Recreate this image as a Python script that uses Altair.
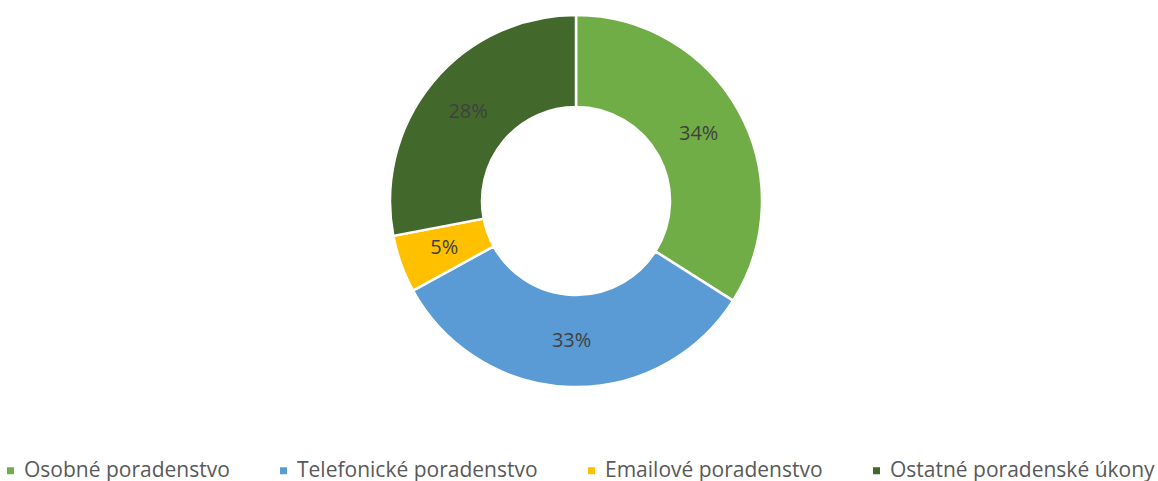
import altair as alt
import pandas as pd

categories = ["Osobné poradenstvo", "Telefonické poradenstvo", "Emailové poradenstvo", "Ostatné poradenské úkony"]
values = [34, 33, 5, 28]
labels = ["34%", "33%", "5%", "28%"]
colors = ["#70AD47", "#5B9BD5", "#FFC000", "#43682B"]

df = pd.DataFrame({"cat": categories, "val": values, "lab": labels, "ord": list(range(len(categories)))})

theta = alt.Theta("val:Q", stack=True)
color = alt.Color("cat:N", scale=alt.Scale(domain=categories, range=colors),
                  sort=categories,
                  legend=alt.Legend(title=None, orient="none", direction="horizontal",
                                    legendX=0, legendY=460, symbolType="square", symbolSize=49,
                                    labelFontSize=21, labelFont="Open Sans", labelColor="#595959",
                                    columnPadding=43, labelLimit=400, symbolStrokeWidth=0,
                                    labelOffset=3, padding=0))
order = alt.Order("ord:Q")

base = alt.Chart(df).encode(theta=theta, order=order, x=alt.value(576), y=alt.value(201))

arcs = base.mark_arc(outerRadius=186, innerRadius=94, stroke="white", strokeWidth=2.5).encode(color=color)
text = base.mark_text(radius=140, fontSize=20, font="Open Sans", color="#404040").encode(text="lab:N")

chart = (arcs + text).properties(width=1158, height=481, padding=0,
                                autosize=alt.AutoSizeParams(type="none")).configure_view(stroke=None)

chart.save("out.html", embed_options={"renderer": "svg", "actions": False})
